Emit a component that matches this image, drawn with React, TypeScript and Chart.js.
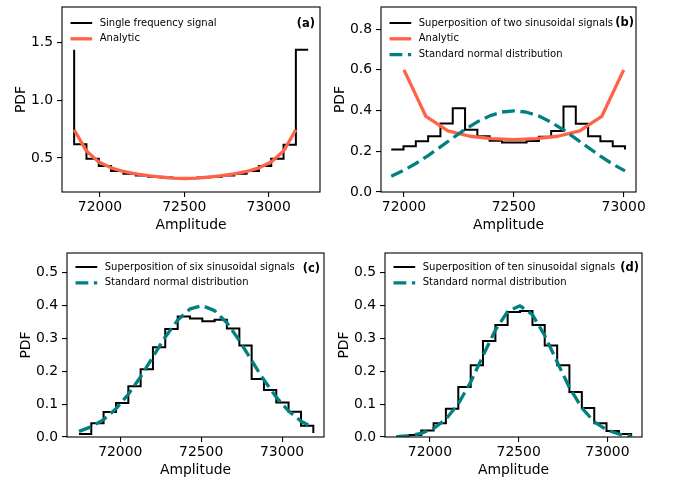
import React, { useEffect, useRef } from "react";
import { Chart, registerables } from "chart.js";

Chart.register(...registerables);

const FONT = '"DejaVu Sans", "Liberation Sans", sans-serif';
const BLACK = "#000000";
const ORANGE = "#ff6347";
const TEAL = "#008080";

// ---------- Tick labels ----------
const X_TICKS = [72000, 72500, 73000];
const Y_TICKS_A = [0.5, 1.0, 1.5];
const Y_TICKS_B = [0.0, 0.2, 0.4, 0.6, 0.8];
const Y_TICKS_CD = [0.0, 0.1, 0.2, 0.3, 0.4, 0.5];

// ---------- Panel (a) ----------
const xA = [71847, 71920, 71993, 72066, 72139, 72212, 72285, 72358, 72431, 72504, 72577, 72650, 72723, 72796, 72869, 72942, 73015, 73088, 73161, 73234];
const histA = [1.44, 0.62, 0.494, 0.43, 0.388, 0.364, 0.348, 0.337, 0.33, 0.326, 0.326, 0.33, 0.337, 0.348, 0.364, 0.388, 0.43, 0.494, 0.615, 1.44];
const analyticAx = [71847, 71920, 71993, 72066, 72139, 72212, 72285, 72358, 72431, 72504, 72577, 72650, 72723, 72796, 72869, 72942, 73015, 73088, 73161];
const analyticA = [0.745, 0.56, 0.465, 0.415, 0.383, 0.362, 0.347, 0.335, 0.326, 0.322, 0.326, 0.335, 0.347, 0.362, 0.383, 0.415, 0.465, 0.56, 0.745];

// ---------- Panel (b) ----------
const xB = [71942, 71998, 72054, 72110, 72166, 72222, 72278, 72334, 72390, 72446, 72502, 72558, 72614, 72670, 72726, 72782, 72838, 72894, 72950, 73006];
const histB = [0.209, 0.225, 0.249, 0.274, 0.336, 0.412, 0.306, 0.274, 0.252, 0.243, 0.243, 0.25, 0.272, 0.3, 0.42, 0.335, 0.274, 0.249, 0.225, 0.209];
const analyticBx = [72000, 72100, 72200, 72300, 72400, 72500, 72600, 72700, 72800, 72900, 73000];
const analyticB = [0.6, 0.371, 0.3, 0.274, 0.262, 0.257, 0.262, 0.274, 0.3, 0.371, 0.6];
const normalB = [0.077, 0.106, 0.14, 0.179, 0.222, 0.265, 0.308, 0.345, 0.374, 0.393, 0.399, 0.392, 0.373, 0.343, 0.305, 0.262, 0.219, 0.176, 0.137, 0.104];

// ---------- Panel (c) ----------
const xC = [71745, 71821, 71897, 71974, 72050, 72126, 72202, 72278, 72355, 72431, 72507, 72583, 72659, 72736, 72812, 72888, 72964, 73040, 73117, 73193];
const histC = [0.009, 0.042, 0.076, 0.103, 0.154, 0.206, 0.273, 0.328, 0.366, 0.36, 0.352, 0.356, 0.33, 0.278, 0.176, 0.143, 0.105, 0.077, 0.034, 0.012];
const normalC = [0.017, 0.031, 0.053, 0.086, 0.13, 0.183, 0.244, 0.304, 0.355, 0.389, 0.399, 0.384, 0.347, 0.293, 0.232, 0.173, 0.121, 0.079, 0.048, 0.028];

// ---------- Panel (d) ----------
const xD = [71812, 71882, 71951, 72021, 72090, 72160, 72230, 72299, 72369, 72438, 72508, 72578, 72647, 72717, 72786, 72856, 72926, 72995, 73065, 73134];
const histD = [0.002, 0.006, 0.02, 0.042, 0.086, 0.152, 0.218, 0.292, 0.34, 0.38, 0.383, 0.34, 0.278, 0.218, 0.137, 0.088, 0.042, 0.018, 0.009, 0.003];
const normalD = [0.0014, 0.0042, 0.0111, 0.0259, 0.0542, 0.1008, 0.1671, 0.2469, 0.325, 0.3813, 0.3986, 0.3713, 0.3083, 0.228, 0.1504, 0.0883, 0.0462, 0.0216, 0.009, 0.0033];

type Kind = "hist" | "analytic" | "normal";
type Series = { label: string; xs: number[]; ys: number[]; kind: Kind; stepped?: false | "before" | "after" };
type Panel = {
  canvas: { left: number; top: number; width: number; height: number };
  area: { l: number; t: number; r: number; b: number };
  xRange: [number, number];
  yRange: [number, number];
  yTicks: number[];
  label: string;
  labelOff: [number, number];
  legendY0: number;
  series: Series[];
};

const STYLE: Record<Kind, { color: string; width: number; dash: number[]; order: number }> = {
  hist: { color: BLACK, width: 2, dash: [], order: 3 },
  analytic: { color: ORANGE, width: 3.3, dash: [], order: 2 },
  normal: { color: TEAL, width: 3.3, dash: [12.8, 5.6], order: 1 },
};

const PANELS: Panel[] = [
  {
    canvas: { left: 0, top: 0, width: 340, height: 240 },
    area: { l: 62, t: 7, r: 320, b: 192 },
    xRange: [71775, 73304],
    yRange: [0.205, 1.81],
    yTicks: Y_TICKS_A,
    label: "(a)",
    labelOff: [5, 17.3],
    legendY0: 16,
    series: [
      { label: "Single frequency signal", xs: xA, ys: histA, kind: "hist", stepped: "after" },
      { label: "Analytic", xs: analyticAx, ys: analyticA, kind: "analytic" },
    ],
  },
  {
    canvas: { left: 326, top: 0, width: 347, height: 240 },
    area: { l: 381, t: 7, r: 636, b: 192 },
    xRange: [71895.5, 73056],
    yRange: [0, 0.909],
    yTicks: Y_TICKS_B,
    label: "(b)",
    labelOff: [2, 16],
    legendY0: 16,
    series: [
      { label: "Superposition of two sinusoidal signals", xs: xB, ys: histB, kind: "hist", stepped: "before" },
      { label: "Analytic", xs: analyticBx, ys: analyticB, kind: "analytic" },
      { label: "Standard normal distribution", xs: xB, ys: normalB, kind: "normal" },
    ],
  },
  {
    canvas: { left: 0, top: 240, width: 340, height: 244 },
    area: { l: 67, t: 253, r: 324, b: 437 },
    xRange: [71671, 73259],
    yRange: [0, 0.559],
    yTicks: Y_TICKS_CD,
    label: "(c)",
    labelOff: [4, 15.6],
    legendY0: 14,
    series: [
      { label: "Superposition of six sinusoidal signals", xs: xC, ys: histC, kind: "hist", stepped: "before" },
      { label: "Standard normal distribution", xs: xC, ys: normalC, kind: "normal" },
    ],
  },
  {
    canvas: { left: 326, top: 240, width: 347, height: 244 },
    area: { l: 385, t: 253, r: 642, b: 437 },
    xRange: [71747, 73195],
    yRange: [0, 0.559],
    yTicks: Y_TICKS_CD,
    label: "(d)",
    labelOff: [3, 15.3],
    legendY0: 14,
    series: [
      { label: "Superposition of ten sinusoidal signals", xs: xD, ys: histD, kind: "hist", stepped: "before" },
      { label: "Standard normal distribution", xs: xD, ys: normalD, kind: "normal" },
    ],
  },
];

function PanelChart({ p }: { p: Panel }) {
  const ref = useRef<HTMLCanvasElement | null>(null);

  useEffect(() => {
    const canvas = ref.current;
    if (!canvas) return;
    const yW = p.area.l - p.canvas.left;
    const padTop = p.area.t - p.canvas.top;
    const padRight = p.canvas.left + p.canvas.width - p.area.r;
    const xH = 24;
    const padBottom = p.canvas.top + p.canvas.height - p.area.b - xH;

    const decor = {
      id: "decor",
      afterDraw(chart: any) {
        const ctx: CanvasRenderingContext2D = chart.ctx;
        const a = chart.chartArea;
        ctx.save();
        // frame
        ctx.strokeStyle = "#000";
        ctx.lineWidth = 1.1;
        ctx.setLineDash([]);
        ctx.strokeRect(a.left, a.top, a.right - a.left, a.bottom - a.top);

        // legend
        p.series.forEach((s, i) => {
          const st = STYLE[s.kind];
          const y = a.top + p.legendY0 + i * 15.8;
          ctx.beginPath();
          ctx.strokeStyle = st.color;
          ctx.lineWidth = st.width;
          ctx.setLineDash(st.dash);
          ctx.lineCap = "butt";
          ctx.moveTo(a.left + 8.5, y);
          ctx.lineTo(a.left + 30.2, y);
          ctx.stroke();
          ctx.setLineDash([]);
          ctx.fillStyle = "#000";
          ctx.font = `10px ${FONT}`;
          ctx.textAlign = "left";
          ctx.textBaseline = "middle";
          ctx.fillText(s.label, a.left + 37.7, y);
        });

        // panel label
        ctx.font = `bold 11.5px ${FONT}`;
        ctx.textAlign = "right";
        ctx.textBaseline = "middle";
        ctx.fillStyle = "#000";
        ctx.fillText(p.label, a.right - p.labelOff[0], a.top + p.labelOff[1]);

        // axis titles
        ctx.font = `13.9px ${FONT}`;
        ctx.textAlign = "center";
        ctx.textBaseline = "middle";
        ctx.fillText("Amplitude", (a.left + a.right) / 2, a.bottom + 33);
        ctx.save();
        ctx.translate(a.left - 41, (a.top + a.bottom) / 2);
        ctx.rotate(-Math.PI / 2);
        ctx.fillText("PDF", 0, 0);
        ctx.restore();
        ctx.restore();
      },
    };

    const datasets = p.series.map((s) => {
      const st = STYLE[s.kind];
      return {
        label: s.label,
        data: s.xs.map((x, i) => ({ x, y: s.ys[i] })),
        borderColor: st.color,
        backgroundColor: st.color,
        borderWidth: st.width,
        borderDash: st.dash,
        borderCapStyle: s.kind === "normal" ? "butt" : "butt",
        borderJoinStyle: s.kind === "hist" ? "miter" : "round",
        stepped: s.stepped || false,
        tension: 0,
        pointRadius: 0,
        fill: false,
        order: st.order,
      };
    });

    const chart = new Chart(canvas, {
      type: "line",
      data: { datasets: datasets as any },
      options: {
        responsive: false,
        animation: false,
        devicePixelRatio: 1,
        layout: { padding: { left: 0, top: padTop, right: padRight, bottom: padBottom } },
        plugins: { legend: { display: false }, tooltip: { enabled: false }, title: { display: false } },
        elements: { point: { radius: 0 } },
        scales: {
          x: {
            type: "linear",
            min: p.xRange[0],
            max: p.xRange[1],
            afterBuildTicks: (s: any) => {
              s.ticks = X_TICKS.map((v) => ({ value: v }));
            },
            afterFit: (s: any) => {
              s.height = xH;
              s.paddingLeft = 0;
              s.paddingRight = 0;
              s.paddingTop = 0;
              s.paddingBottom = 0;
            },
            ticks: {
              font: { family: FONT, size: 13.9, lineHeight: 1 },
              color: "#000",
              padding: 3,
              maxRotation: 0,
              autoSkip: false,
              callback: (v: any) => String(v),
            },
            grid: { drawOnChartArea: false, drawTicks: true, tickLength: 5, color: "#000", lineWidth: 1.1 },
            border: { display: false },
          },
          y: {
            type: "linear",
            min: p.yRange[0],
            max: p.yRange[1],
            afterBuildTicks: (s: any) => {
              s.ticks = p.yTicks.map((v) => ({ value: v }));
            },
            afterFit: (s: any) => {
              s.width = yW;
              s.paddingTop = 0;
              s.paddingBottom = 0;
              s.paddingLeft = 0;
              s.paddingRight = 0;
            },
            ticks: {
              font: { family: FONT, size: 13.9, lineHeight: 1 },
              color: "#000",
              padding: 4,
              autoSkip: false,
              callback: (v: any) => Number(v).toFixed(1),
            },
            grid: { drawOnChartArea: false, drawTicks: true, tickLength: 5, color: "#000", lineWidth: 1.1 },
            border: { display: false },
          },
        },
      },
      plugins: [decor as any],
    });
    return () => chart.destroy();
  }, [p]);

  return (
    <canvas
      ref={ref}
      width={p.canvas.width}
      height={p.canvas.height}
      style={{
        position: "absolute",
        left: p.canvas.left,
        top: p.canvas.top,
        width: p.canvas.width,
        height: p.canvas.height,
      }}
    />
  );
}

export default function App() {
  return (
    <div style={{ position: "absolute", left: 0, top: 0, width: 673, height: 484, background: "#fff", overflow: "hidden" }}>
      {PANELS.map((p, i) => (
        <PanelChart key={i} p={p} />
      ))}
    </div>
  );
}
